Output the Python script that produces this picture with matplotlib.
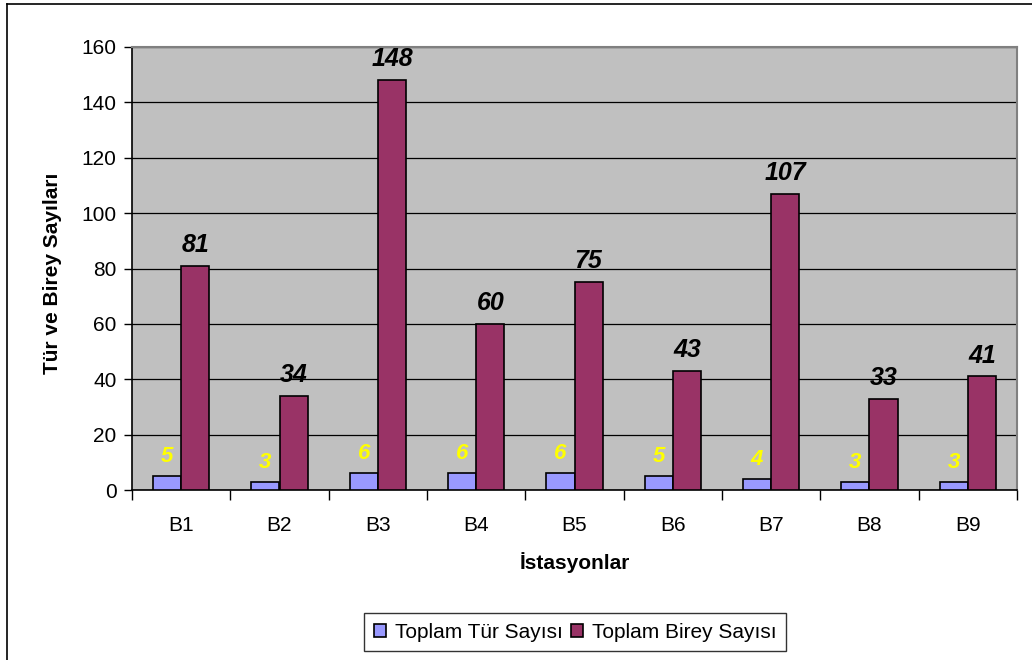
import matplotlib.pyplot as plt
from matplotlib.lines import Line2D
import numpy as np

plt.rcParams['font.family'] = ['Liberation Sans', 'DejaVu Sans']

# station data
stations = ['B1', 'B2', 'B3', 'B4', 'B5', 'B6', 'B7', 'B8', 'B9']
tur_sayisi = [5, 3, 6, 6, 6, 5, 4, 3, 3]
birey_sayisi = [81, 34, 148, 60, 75, 43, 107, 33, 41]
yticks = [0, 20, 40, 60, 80, 100, 120, 140, 160]

W, H = 1032, 660
fig = plt.figure(figsize=(W / 100, H / 100), dpi=100)
fig.patch.set_facecolor('white')

# outer chart frame (left and top edges)
fig.add_artist(Line2D([7 / W, 7 / W], [0, 1 - 4 / H], color='black', lw=1.2))
fig.add_artist(Line2D([7 / W, 1], [1 - 4 / H, 1 - 4 / H], color='black', lw=1.2))

ax = fig.add_axes([132 / W, 1 - 490 / H, (1017 - 132) / W, (490 - 47) / H])
ax.set_facecolor('#C0C0C0')

x = np.arange(len(stations))
w = 0.287
ax.bar(x - w / 2, tur_sayisi, w, color='#9999FF', edgecolor='black', lw=1.2,
       label='Toplam Tür Sayısı', zorder=3)
ax.bar(x + w / 2, birey_sayisi, w, color='#993366', edgecolor='black', lw=1.2,
       label='Toplam Birey Sayısı', zorder=3)

for xi, v in zip(x, tur_sayisi):
    ax.annotate(str(v), (xi - w / 2, v), xytext=(0, 10), textcoords='offset points',
                ha='center', va='baseline', color='#FFFF00', fontsize=16,
                fontweight='bold', fontstyle='italic', zorder=4)
for xi, v in zip(x, birey_sayisi):
    ax.annotate(str(v), (xi + w / 2, v), xytext=(0, 10), textcoords='offset points',
                ha='center', va='baseline', color='black', fontsize=18,
                fontweight='bold', fontstyle='italic', zorder=4)

ax.set_xlim(-0.5, len(stations) - 0.5)
ax.set_ylim(0, 160)
ax.set_yticks(yticks)
ax.yaxis.grid(True, color='black', lw=0.9, zorder=1)
ax.tick_params(axis='y', direction='out', length=6, width=1, labelsize=15, pad=5)

# ticks at category boundaries, labels at centres
ax.set_xticks(np.arange(-0.5, len(stations), 1.0))
ax.set_xticklabels([])
ax.set_xticks(x, minor=True)
ax.set_xticklabels(stations, minor=True)
ax.tick_params(axis='x', which='major', direction='out', length=7, width=1)
ax.tick_params(axis='x', which='minor', length=0, labelsize=15, pad=19)

for s in ['top', 'right']:
    ax.spines[s].set_color('#808080')
    ax.spines[s].set_linewidth(1.5)
for s in ['left', 'bottom']:
    ax.spines[s].set_color('black')
    ax.spines[s].set_linewidth(1.2)

fig.text(575 / W, 1 - 563 / H, 'İstasyonlar', ha='center', va='center',
         fontsize=15, fontweight='bold')
fig.text(53 / W, 1 - 273 / H, 'Tür ve Birey Sayıları', ha='center', va='center',
         rotation=90, fontsize=15, fontweight='bold')

leg = fig.legend(loc='center', bbox_to_anchor=(575 / W, 1 - 632 / H), ncol=2,
                 fontsize=15, frameon=True, fancybox=False, edgecolor='black',
                 handlelength=0.6, handleheight=0.6, handletextpad=0.4,
                 columnspacing=0.4, borderpad=0.45)
leg.get_frame().set_linewidth(1.0)

fig.savefig('out.png', dpi=100)
